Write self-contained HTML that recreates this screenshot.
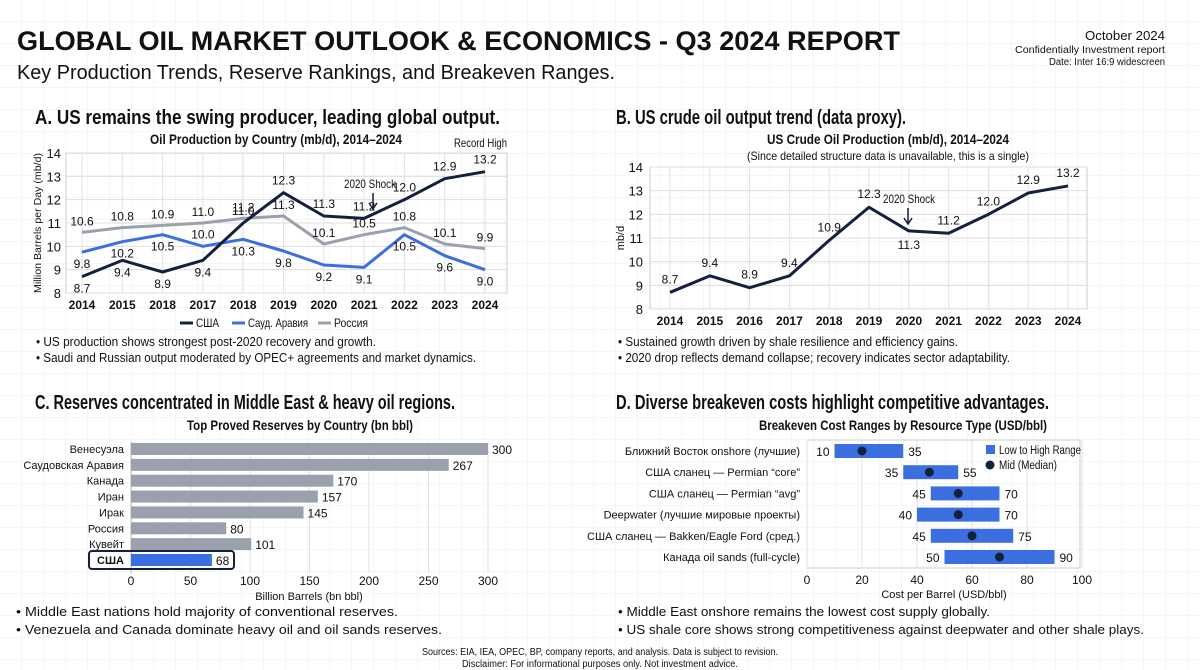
<!DOCTYPE html>
<html><head><meta charset="utf-8"><style>
html,body{margin:0;padding:0;background:#fff}
svg{display:block}
text{font-family:"Liberation Sans",sans-serif;fill:#111}
</style></head><body>
<svg id="s" width="1200" height="670" viewBox="0 0 1200 670" xmlns="http://www.w3.org/2000/svg">
<defs><pattern id="grid" width="22" height="22" patternUnits="userSpaceOnUse"><path d="M22 0V22H0" fill="none" stroke="#ececec" stroke-width="1"/></pattern></defs>
<rect width="1200" height="670" fill="#fff"/>
<rect width="1200" height="670" fill="url(#grid)"/>
<g>
<text x="17" y="50" font-size="27" font-weight="bold" textLength="883" lengthAdjust="spacingAndGlyphs">GLOBAL OIL MARKET OUTLOOK &amp; ECONOMICS - Q3 2024 REPORT</text>
<text x="17" y="79" font-size="20" textLength="598" lengthAdjust="spacingAndGlyphs">Key Production Trends, Reserve Rankings, and Breakeven Ranges.</text>
<text x="1165" y="40" font-size="13" text-anchor="end" textLength="80" lengthAdjust="spacingAndGlyphs">October 2024</text>
<text x="1165" y="53" font-size="10" text-anchor="end" textLength="150" lengthAdjust="spacingAndGlyphs">Confidentially Investment report</text>
<text x="1165" y="65" font-size="10" text-anchor="end" textLength="116" lengthAdjust="spacingAndGlyphs">Date: Inter 16:9 widescreen</text>
</g>
<text x="35" y="124" font-size="20" font-weight="bold" textLength="465" lengthAdjust="spacingAndGlyphs">A. US remains the swing producer, leading global output.</text>
<text x="616" y="124" font-size="20" font-weight="bold" textLength="290" lengthAdjust="spacingAndGlyphs">B. US crude oil output trend (data proxy).</text>
<text x="35" y="409" font-size="20" font-weight="bold" textLength="420" lengthAdjust="spacingAndGlyphs">C. Reserves concentrated in Middle East &amp; heavy oil regions.</text>
<text x="616" y="409" font-size="20" font-weight="bold" textLength="433" lengthAdjust="spacingAndGlyphs">D. Diverse breakeven costs highlight competitive advantages.</text>

<text x="276" y="144" font-size="14" font-weight="bold" text-anchor="middle" textLength="252" lengthAdjust="spacingAndGlyphs">Oil Production by Country (mb/d), 2014–2024</text>
<text x="888" y="144" font-size="14" font-weight="bold" text-anchor="middle" textLength="242" lengthAdjust="spacingAndGlyphs">US Crude Oil Production (mb/d), 2014–2024</text>
<text x="888" y="160" font-size="12" text-anchor="middle" textLength="282" lengthAdjust="spacingAndGlyphs">(Since detailed structure data is unavailable, this is a single)</text>
<text x="300" y="430" font-size="14" font-weight="bold" text-anchor="middle" textLength="226" lengthAdjust="spacingAndGlyphs">Top Proved Reserves by Country (bn bbl)</text>
<text x="903" y="430" font-size="14" font-weight="bold" text-anchor="middle" textLength="288" lengthAdjust="spacingAndGlyphs">Breakeven Cost Ranges by Resource Type (USD/bbl)</text>

<g font-size="13">
<text x="36" y="346" textLength="340" lengthAdjust="spacingAndGlyphs">• US production shows strongest post-2020 recovery and growth.</text>
<text x="36" y="362" textLength="440" lengthAdjust="spacingAndGlyphs">• Saudi and Russian output moderated by OPEC+ agreements and market dynamics.</text>
<text x="618" y="346" textLength="340" lengthAdjust="spacingAndGlyphs">• Sustained growth driven by shale resilience and efficiency gains.</text>
<text x="618" y="362" textLength="392" lengthAdjust="spacingAndGlyphs">• 2020 drop reflects demand collapse; recovery indicates sector adaptability.</text>
<text x="16" y="616" textLength="382" lengthAdjust="spacingAndGlyphs">• Middle East nations hold majority of conventional reserves.</text>
<text x="16" y="634" textLength="426" lengthAdjust="spacingAndGlyphs">• Venezuela and Canada dominate heavy oil and oil sands reserves.</text>
<text x="618" y="616" textLength="372" lengthAdjust="spacingAndGlyphs">• Middle East onshore remains the lowest cost supply globally.</text>
<text x="618" y="634" textLength="526" lengthAdjust="spacingAndGlyphs">• US shale core shows strong competitiveness against deepwater and other shale plays.</text>
</g>
<text x="600" y="655" font-size="10" text-anchor="middle" textLength="356" lengthAdjust="spacingAndGlyphs">Sources: EIA, IEA, OPEC, BP, company reports, and analysis. Data is subject to revision.</text>
<text x="600" y="667" font-size="10" text-anchor="middle" textLength="276" lengthAdjust="spacingAndGlyphs">Disclaimer: For informational purposes only. Not investment advice.</text>
<g id="charts"></g>
</svg>
<script>
const yearsA = ["2014","2015","2018","2017","2018","2019","2020","2021","2022","2023","2024"];
const usa = [8.7,9.4,8.9,9.4,11.0,12.3,11.3,11.2,12.0,12.9,13.2];
const saudi = [9.75,10.2,10.5,10.0,10.3,9.8,9.2,9.1,10.5,9.6,9.0];
const russia = [10.6,10.8,10.9,11.0,11.2,11.3,10.1,10.5,10.8,10.1,9.9];
const yTicksA = [8,9,10,11,12,13,14];
const yearsB = ["2014","2015","2016","2017","2018","2019","2020","2021","2022","2023","2024"];
const usB = [8.7,9.4,8.9,9.4,10.9,12.3,11.3,11.2,12.0,12.9,13.2];
const countries = ["Венесуэла","Саудовская Аравия","Канада","Иран","Ирак","Россия","Кувейт","США"];
const reserves = [300,267,170,157,145,80,101,68];
const xTicksC = [0,50,100,150,200,250,300];
const resources = ["Ближний Восток onshore (лучшие)","США сланец — Permian \u201ccore\u201d","США сланец — Permian \u201cavg\u201d","Deepwater (лучшие мировые проекты)","США сланец — Bakken/Eagle Ford (сред.)","Канада oil sands (full-cycle)"];
const lows = [10,35,45,40,45,50];
const highs = [35,55,70,70,75,90];
const mids = [20,44.5,55,55,60,70];
const xTicksD = [0,20,40,60,80,100];

const NS="http://www.w3.org/2000/svg";
const root=document.getElementById('charts');
function el(tag,attrs,parent,txt){const e=document.createElementNS(NS,tag);for(const k in attrs)e.setAttribute(k,attrs[k]);if(txt!==undefined)e.textContent=txt;(parent||root).appendChild(e);return e;}
const NAVY="#14213d",BLUE="#3b6fe0",GRAY="#9aa1ad";

// ---- Chart A
const gA=el('g',{});


const ax=i=>82+i*(485-82)/(yearsA.length-1), ay=v=>293-(v-8)*(293-153)/6;
el('rect',{x:66,y:153,width:441,height:140,fill:'none',stroke:'#ccc'},gA);
yTicksA.forEach(t=>{el('line',{x1:66,x2:507,y1:ay(t),y2:ay(t),stroke:'#ddd'},gA);const tx=el('text',{x:61,y:ay(t)+5,'font-size':13,'text-anchor':'end'},gA,t);});
yearsA.forEach((y,i)=>{el('line',{x1:ax(i),x2:ax(i),y1:153,y2:293,stroke:'#e2e2e2'},gA);const tx=el('text',{x:ax(i),y:309,'font-size':12,'font-weight':'bold','text-anchor':'middle'},gA,y);});
const yt=el('text',{x:0,y:0,'font-size':10.5,'text-anchor':'middle',transform:'translate(41,223) rotate(-90)',textLength:140,lengthAdjust:'spacingAndGlyphs'},gA,'Million Barrels per Day (mb/d)');

[[russia,GRAY,'line-russia',-7],[saudi,BLUE,'line-saudi',16],[usa,NAVY,'line-usa',16]].forEach(([d,c,n,off],si)=>{
  const p=el('polyline',{points:d.map((v,i)=>ax(i)+','+ay(v)).join(' '),fill:'none',stroke:c,'stroke-width':3,'stroke-linejoin':'round'},gA);
  
  d.forEach((v,i)=>{let o=off; if(n==='line-usa'&&i>=4)o=-8; if(n==='line-saudi'&&i===3)o=-8;
    const t=el('text',{x:ax(i),y:ay(v)+o,'font-size':12,'text-anchor':'middle'},gA,v.toFixed(1));
    });
});
el('text',{x:507,y:147,'font-size':12,'text-anchor':'end',textLength:53,lengthAdjust:'spacingAndGlyphs'},gA,'Record High');
el('text',{x:370,y:188,'font-size':12,'text-anchor':'middle',textLength:52,lengthAdjust:'spacingAndGlyphs'},gA,'2020 Shock');
el('path',{d:'M373 193V208M369 203L373 209L377 203',fill:'none',stroke:NAVY,'stroke-width':1.5},gA);
const lg=el('g',{},gA);
[['США',NAVY,180,23],['Сауд. Аравия',BLUE,232,60],['Россия',GRAY,318,34]].forEach(([l,c,x,w])=>{
  el('line',{x1:x,x2:x+13,y1:323,y2:323,stroke:c,'stroke-width':3},lg);
  const t=el('text',{x:x+16,y:327,'font-size':12,textLength:w,lengthAdjust:'spacingAndGlyphs'},lg,l);});

// ---- Chart B
const gB=el('g',{});


const bx=i=>670+i*(1068-670)/(yearsB.length-1), by=v=>309-(v-8)*(309-167)/6;
el('rect',{x:650,y:167,width:437,height:142,fill:'none',stroke:'#ccc'},gB);
yTicksA.forEach(t=>{el('line',{x1:650,x2:1087,y1:by(t),y2:by(t),stroke:'#ddd'},gB);const tx=el('text',{x:643,y:by(t)+5,'font-size':13,'text-anchor':'end'},gB,t);});
yearsB.forEach((y,i)=>{el('line',{x1:bx(i),x2:bx(i),y1:167,y2:309,stroke:'#e2e2e2'},gB);const tx=el('text',{x:bx(i),y:325,'font-size':12,'font-weight':'bold','text-anchor':'middle'},gB,y);});
const ytb=el('text',{x:0,y:0,'font-size':11,'text-anchor':'middle',transform:'translate(624,238) rotate(-90)'},gB,'mb/d');

const pb=el('polyline',{points:usB.map((v,i)=>bx(i)+','+by(v)).join(' '),fill:'none',stroke:NAVY,'stroke-width':3,'stroke-linejoin':'round'},gB);

usB.forEach((v,i)=>{const o=(i===6)?18:-9;const t=el('text',{x:bx(i),y:by(v)+o,'font-size':12,'text-anchor':'middle'},gB,v.toFixed(1));});
el('text',{x:909,y:203,'font-size':12,'text-anchor':'middle',textLength:52,lengthAdjust:'spacingAndGlyphs'},gB,'2020 Shock');
el('path',{d:'M908 208V223M904 218L908 224L912 218',fill:'none',stroke:NAVY,'stroke-width':1.5},gB);

// ---- Chart C
const gC=el('g',{});


const cx=v=>131+v*(488-131)/300, cy=i=>449+i*(560-449)/(countries.length-1);
xTicksC.forEach(t=>{el('line',{x1:cx(t),x2:cx(t),y1:442,y2:573,stroke:'#e0e0e0'},gC);const tx=el('text',{x:cx(t),y:585,'font-size':12,'text-anchor':'middle'},gC,t);});
el('line',{x1:131,x2:131,y1:442,y2:573,stroke:'#bbb'},gC);
countries.forEach((c,i)=>{
  const us=c==='США';
  const b=el('rect',{x:cx(0),y:cy(i)-6,width:cx(reserves[i])-cx(0),height:12,fill:us?BLUE:GRAY},gC);
  
  const l=el('text',{x:124,y:cy(i)+4,'font-size':11,'text-anchor':'end','font-weight':us?'bold':'normal'},gC,c);
  
  const v=el('text',{x:cx(reserves[i])+4,y:cy(i)+5,'font-size':12},gC,reserves[i]);
  
  if(us){const h=el('rect',{x:89,y:cy(i)-9,width:145,height:18,rx:3,fill:'none',stroke:NAVY,'stroke-width':2},gC);}
});
const xtc=el('text',{x:309,y:600,'font-size':11,'text-anchor':'middle'},gC,'Billion Barrels (bn bbl)');


// ---- Chart D
const gD=el('g',{});


const dx=v=>807+v*(1082-807)/100, dy=i=>451+i*(557-451)/(resources.length-1);
el('rect',{x:807,y:440,width:273,height:128,fill:'none',stroke:'#ccc'},gD);
xTicksD.forEach(t=>{el('line',{x1:dx(t),x2:dx(t),y1:440,y2:568,stroke:'#e0e0e0'},gD);const tx=el('text',{x:dx(t),y:584,'font-size':12,'text-anchor':'middle'},gD,t);});
resources.forEach((r,i)=>{
  const b=el('rect',{x:dx(lows[i]),y:dy(i)-7,width:dx(highs[i])-dx(lows[i]),height:14,fill:BLUE},gD);
  
  const m=el('circle',{cx:dx(mids[i]),cy:dy(i),r:4.5,fill:NAVY},gD);
  
  const l=el('text',{x:800,y:dy(i)+4,'font-size':11,'text-anchor':'end'},gD,r);
  
  const lo=el('text',{x:dx(lows[i])-5,y:dy(i)+5,'font-size':12,'text-anchor':'end'},gD,lows[i]);
  
  const hi=el('text',{x:dx(highs[i])+5,y:dy(i)+5,'font-size':12},gD,highs[i]);
  
});
const ld=el('g',{},gD);
el('rect',{x:986,y:445,width:9,height:9,fill:BLUE},ld);
const le1=el('text',{x:999,y:454,'font-size':11.5,textLength:82,lengthAdjust:'spacingAndGlyphs'},ld,'Low to High Range');
el('circle',{cx:990,cy:465,r:4.5,fill:NAVY},ld);
const le2=el('text',{x:999,y:469,'font-size':11.5,textLength:58,lengthAdjust:'spacingAndGlyphs'},ld,'Mid (Median)');
const xtd=el('text',{x:944,y:598,'font-size':11,'text-anchor':'middle'},gD,'Cost per Barrel (USD/bbl)');

</script>
</body></html>
